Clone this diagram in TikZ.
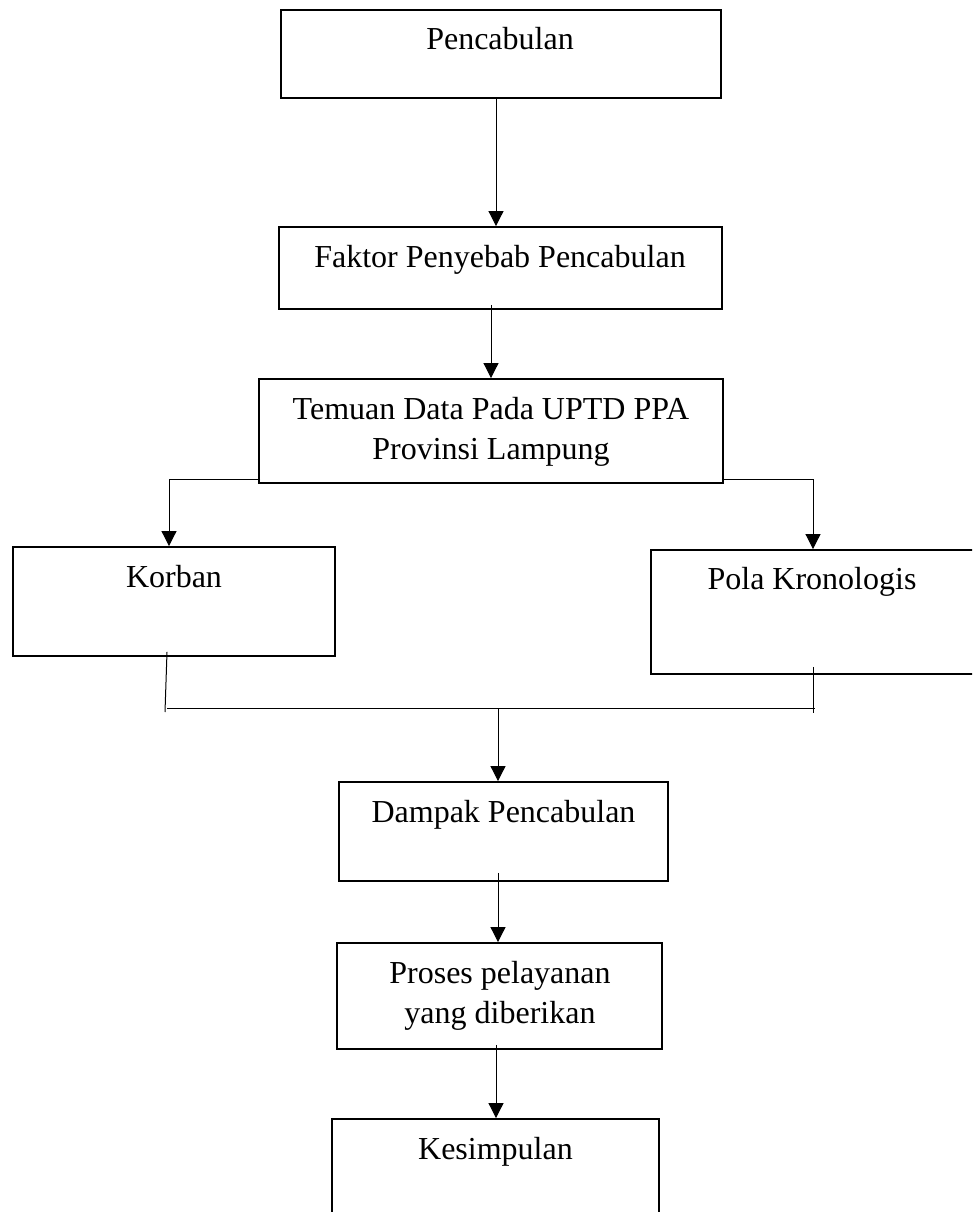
\documentclass[tikz,border=0pt]{standalone}
\usepackage{fontspec}
\setmainfont{Liberation Serif}
\usetikzlibrary{arrows.meta,calc}
\begin{document}
\begin{tikzpicture}[x=1pt,y=-1pt,
  box/.style={draw=black,line width=1.9pt,rectangle,inner sep=0pt,fill=none},
  conn/.style={draw=black,line width=1pt},
  arr/.style={conn,-{Triangle[width=15pt,length=15pt]}},
  lbl/.style={anchor=base,inner sep=0pt,font=\fontsize{32}{40}\selectfont,align=center}]
\useasboundingbox (0,0) rectangle (972,1212);
\clip (0,0) rectangle (972,1212);
% boxes
\node[box,line width=2.6pt,minimum width=440pt,minimum height=88pt] (b1) at (501,54) {};
\node[box,minimum width=443pt,minimum height=82pt] (b2) at (500.5,268) {};
\node[box,minimum width=464pt,minimum height=104pt] (b3) at (491,431) {};
\node[box,minimum width=322pt,minimum height=109pt] (korban) at (174,601.5) {};
\node[box,minimum width=334pt,minimum height=124pt] (pola) at (818,612) {};
\node[box,minimum width=329pt,minimum height=99pt] (dampak) at (503.5,831.5) {};
\node[box,minimum width=325pt,minimum height=106pt] (proses) at (499.5,996) {};
\node[box,minimum width=327pt,minimum height=111pt] (kes) at (495.5,1174.5) {};
% labels (multi-line labels: base = last line's baseline)
\node[lbl] (t1) at (500,50) {Pencabulan};
\node[lbl] (t2) at (500,267) {Faktor Penyebab Pencabulan};
\node[lbl] (t3) at (491,459) {Temuan Data Pada UPTD PPA\\Provinsi Lampung};
\node[lbl] (t4) at (174,587) {Korban};
\node[lbl] (t5) at (812,589) {Pola Kronologis};
\node[lbl] (t6) at (503.5,822) {Dampak Pencabulan};
\node[lbl] (t7) at (500,1023) {Proses pelayanan\\yang diberikan};
\node[lbl] (t8) at (495.5,1159) {Kesimpulan};
% helper coordinates
\coordinate (c1) at (496,0);
\coordinate (c2) at (491,0);
\coordinate (kl) at (169,0);
\coordinate (pr) at (813,0);
\coordinate (kb) at (167,0);
\coordinate (jlb) at (165,712);
\coordinate (jl) at (167,708);
\coordinate (jr) at (815,708);
\coordinate (jend) at (813,713);
\coordinate (jm) at (498,708);
\coordinate (c5) at (496,0);
% connectors
\draw[arr] (b1.south -| c1) -- (b2.north -| c1);
\draw[arr] ([yshift=5pt]b2.south -| c2) -- (b3.north -| c2);
\draw[arr] ([xshift=2pt,yshift=4pt]b3.south west) -| (kl |- korban.north);
\draw[arr] ([xshift=-2pt,yshift=4pt]b3.south east) -| (pr |- pola.north);
\draw[conn] ([yshift=5pt]korban.south -| kb) -- (jlb);
\draw[conn] ([yshift=8pt]pola.south -| pr) -- (jend);
\draw[conn] (jl) -- (jr);
\draw[arr] (jm) -- (dampak.north -| jm);
\draw[arr] ([yshift=9pt]dampak.south -| jm) -- (proses.north -| jm);
\draw[arr] ([yshift=5pt]proses.south -| c5) -- (kes.north -| c5);
\end{tikzpicture}
\end{document}
